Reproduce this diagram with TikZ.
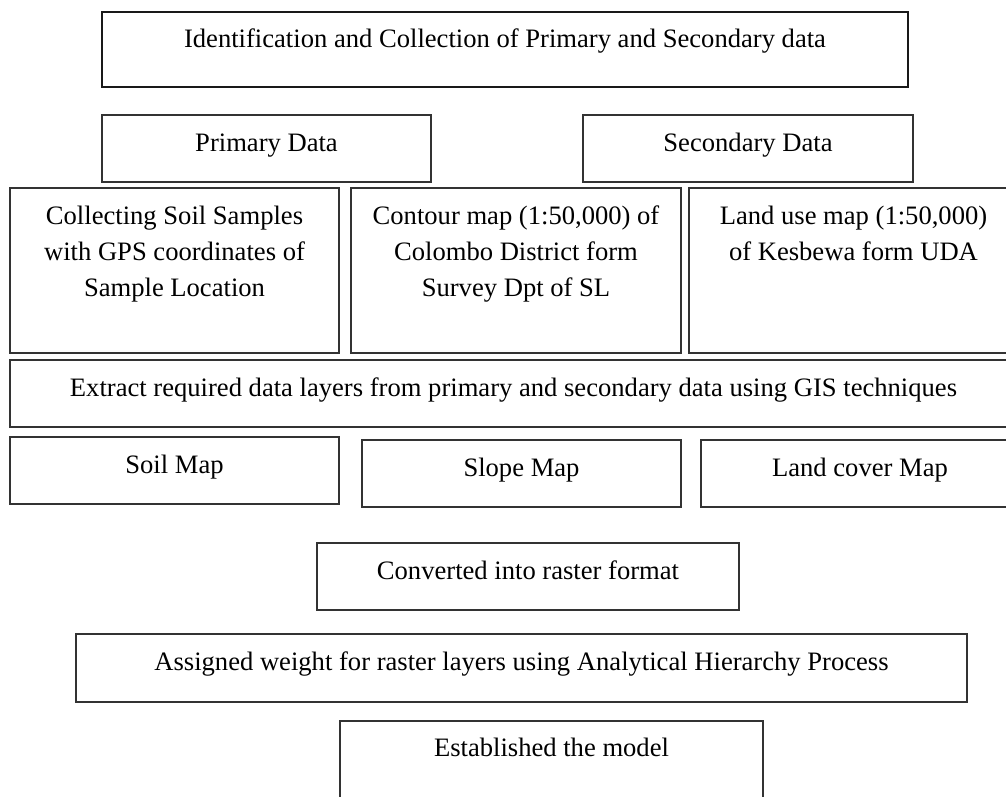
\documentclass[tikz,border=0pt]{standalone}
\usepackage{fontspec}
\setmainfont{Liberation Serif}
\tikzset{
  box/.style={draw=black!80, line width=1.3pt, inner sep=0pt, outer sep=0pt, anchor=north west},
  topbox/.style={box, draw=black!90, line width=2.2pt},
  txt/.style={anchor=base, inner sep=0pt, outer sep=0pt, text=black, font=\fontsize{26.6}{36}\selectfont},
}
\newcommand\lines[1]{\begin{tabular}[t]{@{}c@{}}#1\end{tabular}}
\begin{document}
\begin{tikzpicture}[x=1pt,y=-1pt]
\useasboundingbox (0,0) rectangle (1006,796);
% boxes
\node[topbox, minimum width=806pt, minimum height=75pt] (top) at (102,12) {};
\node[box, minimum width=329pt, minimum height=67pt] (prim) at (102,115) {};
\node[box, minimum width=330pt, minimum height=67pt] (sec) at (583,115) {};
\node[box, minimum width=329pt, minimum height=165pt] (coll) at (10,188) {};
\node[box, minimum width=330pt, minimum height=165pt] (cont) at (351,188) {};
\node[box, minimum width=329pt, minimum height=165pt] (land) at (689,188) {};
\node[box, minimum width=1007pt, minimum height=67pt] (extr) at (10,360) {};
\node[box, minimum width=329pt, minimum height=67pt] (soil) at (10,437) {};
\node[box, minimum width=319pt, minimum height=67pt] (slope) at (362,440) {};
\node[box, minimum width=318pt, minimum height=67pt] (lcov) at (701,440) {};
\node[box, minimum width=422pt, minimum height=67pt] (conv) at (317,543) {};
\node[box, minimum width=891pt, minimum height=68pt] (assg) at (76,634) {};
\node[box, minimum width=423pt, minimum height=85pt] (est) at (340,721) {};
% texts
\node[txt] (ttop) at ([yshift=-35pt]top.north) {Identification and Collection of Primary and Secondary data};
\node[txt] (tprim) at ([yshift=-36pt]prim.north) {Primary Data};
\node[txt] (tsec) at ([yshift=-36pt]sec.north) {Secondary Data};
\node[txt] (tcoll) at ([yshift=-36pt]coll.north) {\lines{Collecting Soil Samples\\with GPS coordinates of\\Sample Location}};
\node[txt] (tcont) at ([yshift=-36pt]cont.north) {\lines{Contour map (1:50,000) of\\Colombo District form\\Survey Dpt of SL}};
\node[txt] (tland) at ([yshift=-36pt]land.north) {\lines{Land use map (1:50,000)\\of Kesbewa form UDA}};
\node[txt] (textr) at ([yshift=-36pt]extr.north) {Extract required data layers from primary and secondary data using GIS techniques};
\node[txt] (tsoil) at ([yshift=-36pt]soil.north) {Soil Map};
\node[txt] (tslope) at ([yshift=-36pt]slope.north) {Slope Map};
\node[txt] (tlcov) at ([yshift=-36pt]lcov.north) {Land cover Map};
\node[txt] (tconv) at ([yshift=-36pt]conv.north) {Converted into raster format};
\node[txt] (tassg) at ([yshift=-36pt]assg.north) {Assigned weight for raster layers using Analytical Hierarchy Process};
\node[txt] (test) at ([yshift=-35pt]est.north) {Established the model};
\end{tikzpicture}
\end{document}
